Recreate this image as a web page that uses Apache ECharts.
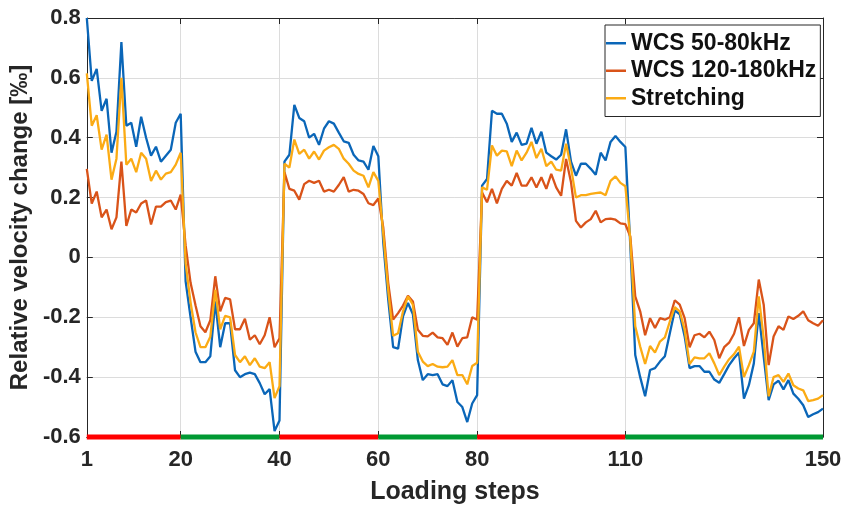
<!DOCTYPE html>
<html>
<head>
<meta charset="utf-8">
<title>Relative velocity change</title>
<script src="https://cdn.jsdelivr.net/npm/echarts@6/dist/echarts.min.js"></script>
<style>
  html, body { margin: 0; padding: 0; background: #fff; }
  #chart { width: 845px; height: 511px; }
</style>
</head>
<body>
<div id="chart"></div>
<script>
// Loading steps shown on the x axis
const tickSteps = [1, 20, 40, 60, 80, 110, 150];
const yTicks = [-0.6, -0.4, -0.2, 0, 0.2, 0.4, 0.6, 0.8];

// Load phases drawn as a coloured strip along the bottom axis
const phaseBounds = [1, 20, 40, 60, 80, 110, 150];
const phaseColors = ['#ff0000', '#009933', '#ff0000', '#009933', '#ff0000', '#009933'];

const seriesNames = ['WCS 50-80kHz', 'WCS 120-180kHz', 'Stretching'];

// Relative velocity change [‰] per loading step (steps 1..150)
const wcsLow = [
  0.80, 0.59, 0.63, 0.49, 0.53, 0.35, 0.42, 0.72, 0.44, 0.45,
  0.37, 0.47, 0.40, 0.34, 0.37, 0.32, 0.34, 0.36, 0.45, 0.48,
  -0.08, -0.20, -0.315, -0.35, -0.35, -0.33, -0.147, -0.30, -0.22, -0.22,
  -0.377, -0.40, -0.39, -0.385, -0.39, -0.42, -0.457, -0.44, -0.58, -0.545,
  0.32, 0.343, 0.51, 0.466, 0.455, 0.40, 0.413, 0.376, 0.43, 0.455,
  0.447, 0.417, 0.388, 0.383, 0.343, 0.324, 0.32, 0.293, 0.372, 0.338,
  0.05, -0.14, -0.30, -0.305, -0.197, -0.152, -0.19, -0.343, -0.41, -0.39,
  -0.393, -0.39, -0.424, -0.43, -0.41, -0.483, -0.50, -0.55, -0.488, -0.46,
  0.24, 0.262, 0.49, 0.48, 0.48, 0.447, 0.386, 0.417, 0.376, 0.38,
  0.433, 0.38, 0.42, 0.35, 0.338, 0.327, 0.343, 0.428, 0.32, 0.273,
  0.313, 0.313, 0.296, 0.276, 0.35, 0.324, 0.386, 0.406, 0.386, 0.369,
  0.04, -0.326, -0.40, -0.464, -0.376, -0.37, -0.348, -0.33, -0.253, -0.177,
  -0.19, -0.264, -0.37, -0.363, -0.363, -0.382, -0.382, -0.408, -0.419, -0.39,
  -0.36, -0.337, -0.318, -0.472, -0.427, -0.354, -0.186, -0.332, -0.477, -0.424,
  -0.412, -0.441, -0.41, -0.455, -0.472, -0.494, -0.533, -0.524, -0.517, -0.505
];
const wcsHigh = [
  0.296, 0.18, 0.22, 0.134, 0.16, 0.094, 0.134, 0.32, 0.105, 0.16,
  0.15, 0.18, 0.19, 0.11, 0.17, 0.17, 0.185, 0.19, 0.16, 0.21,
  0.04, -0.085, -0.16, -0.23, -0.25, -0.21, -0.063, -0.18, -0.135, -0.14,
  -0.24, -0.24, -0.205, -0.275, -0.26, -0.29, -0.26, -0.20, -0.30, -0.27,
  0.285, 0.229, 0.223, 0.193, 0.245, 0.256, 0.249, 0.256, 0.22, 0.226,
  0.22, 0.242, 0.268, 0.22, 0.226, 0.223, 0.212, 0.181, 0.175, 0.197,
  0.10, -0.085, -0.208, -0.186, -0.161, -0.128, -0.147, -0.242, -0.262, -0.264,
  -0.251, -0.267, -0.27, -0.292, -0.251, -0.298, -0.27, -0.267, -0.20, -0.208,
  0.217, 0.184, 0.229, 0.181, 0.229, 0.256, 0.24, 0.282, 0.24, 0.24,
  0.268, 0.234, 0.268, 0.229, 0.279, 0.234, 0.206, 0.329, 0.251, 0.122,
  0.10, 0.117, 0.128, 0.156, 0.117, 0.128, 0.13, 0.126, 0.114, 0.111,
  0.07, -0.13, -0.18, -0.26, -0.203, -0.236, -0.203, -0.208, -0.20, -0.143,
  -0.158, -0.203, -0.30, -0.26, -0.255, -0.267, -0.248, -0.276, -0.337, -0.30,
  -0.285, -0.255, -0.20, -0.296, -0.242, -0.22, -0.074, -0.158, -0.36, -0.264,
  -0.23, -0.242, -0.197, -0.206, -0.195, -0.18, -0.21, -0.22, -0.228, -0.21
];
const stretching = [
  0.615, 0.44, 0.475, 0.36, 0.41, 0.26, 0.33, 0.60, 0.31, 0.33,
  0.285, 0.35, 0.33, 0.255, 0.29, 0.26, 0.28, 0.285, 0.31, 0.35,
  -0.02, -0.15, -0.25, -0.30, -0.30, -0.265, -0.108, -0.24, -0.195, -0.20,
  -0.326, -0.35, -0.33, -0.36, -0.337, -0.365, -0.37, -0.35, -0.47, -0.43,
  0.313, 0.30, 0.394, 0.346, 0.36, 0.33, 0.354, 0.327, 0.357, 0.368,
  0.376, 0.363, 0.33, 0.313, 0.29, 0.279, 0.273, 0.234, 0.285, 0.256,
  0.08, -0.11, -0.262, -0.253, -0.18, -0.13, -0.158, -0.315, -0.348, -0.363,
  -0.356, -0.365, -0.367, -0.365, -0.343, -0.393, -0.393, -0.424, -0.363, -0.352,
  0.234, 0.226, 0.374, 0.34, 0.357, 0.354, 0.305, 0.357, 0.324, 0.35,
  0.386, 0.332, 0.363, 0.305, 0.32, 0.293, 0.29, 0.38, 0.30, 0.20,
  0.208, 0.208, 0.212, 0.215, 0.217, 0.208, 0.256, 0.271, 0.249, 0.238,
  0.06, -0.23, -0.298, -0.356, -0.296, -0.318, -0.281, -0.267, -0.214, -0.166,
  -0.18, -0.242, -0.356, -0.334, -0.337, -0.337, -0.32, -0.354, -0.393, -0.365,
  -0.34, -0.323, -0.298, -0.40, -0.36, -0.315, -0.13, -0.27, -0.464, -0.40,
  -0.393, -0.416, -0.388, -0.427, -0.438, -0.444, -0.48, -0.477, -0.472, -0.46
];

const lineColors = ['#0a66b8', '#d95319', '#fbab14'];
const FONT = "'Liberation Sans', Arial, sans-serif";
const INK = '#262626';

const toPairs = values => values.map((v, i) => [i + 1, v]);

const lineSeries = [wcsLow, wcsHigh, stretching].map((values, k) => ({
  name: seriesNames[k],
  type: 'line',
  data: toPairs(values),
  symbol: 'none',
  lineStyle: { width: 2.3, color: lineColors[k] },
  itemStyle: { color: lineColors[k] },
  z: 3 + k
}));

// one thick segment per load phase, lying on the bottom axis
const phaseSeries = phaseColors.map((c, k) => ({
  type: 'line',
  data: [[phaseBounds[k], yTicks[0]], [phaseBounds[k + 1], yTicks[0]]],
  symbol: 'none',
  silent: true,
  clip: false,
  lineStyle: { width: 5, color: c, cap: 'butt' },
  z: 10
}));

const chart = echarts.init(document.getElementById('chart'), null, { renderer: 'canvas' });

chart.setOption({
  animation: false,
  backgroundColor: '#fff',
  grid: { left: 86, right: 22, top: 18, bottom: 74 },
  legend: {
    data: seriesNames,
    orient: 'vertical',
    left: 605,
    top: 25,
    icon: 'rect',
    padding: [6, 4, 6, 1],
    itemGap: 3,
    itemWidth: 20,
    itemHeight: 2.5,
    backgroundColor: '#fff',
    borderColor: INK,
    borderWidth: 1,
    textStyle: { fontFamily: FONT, fontWeight: 'bold', fontSize: 23, color: '#111', lineHeight: 24.5 }
  },
  xAxis: [{
    type: 'value',
    min: 1,
    max: 150,
    name: 'Loading steps',
    nameLocation: 'middle',
    nameGap: 43,
    nameTextStyle: { fontFamily: FONT, fontWeight: 'bold', fontSize: 25, color: INK },
    axisLine: { show: true, onZero: false, lineStyle: { color: INK, width: 1 } },
    axisTick: { show: true, inside: true, length: 6, customValues: tickSteps, lineStyle: { color: INK } },
    axisLabel: { customValues: tickSteps, margin: 12, fontFamily: FONT, fontWeight: 'bold', fontSize: 22, color: INK },
    splitLine: { show: true, lineStyle: { color: '#dcdcdc', width: 1 } }
  }, {
    type: 'value',
    position: 'top',
    min: 1,
    max: 150,
    axisLine: { show: true, onZero: false, lineStyle: { color: INK, width: 1 } },
    axisTick: { show: true, inside: true, length: 6, customValues: tickSteps, lineStyle: { color: INK } },
    axisLabel: { show: false, customValues: tickSteps },
    splitLine: { show: false }
  }],
  yAxis: [{
    type: 'value',
    min: -0.6,
    max: 0.8,
    interval: 0.2,
    name: 'Relative velocity change [‰]',
    nameLocation: 'middle',
    nameGap: 47,
    nameRotate: 90,
    nameTextStyle: { fontFamily: FONT, fontWeight: 'bold', fontSize: 24, color: INK },
    axisLine: { show: true, onZero: false, lineStyle: { color: INK, width: 1 } },
    axisTick: { show: true, inside: true, length: 6, lineStyle: { color: INK } },
    axisLabel: {
      margin: 6,
      fontFamily: FONT, fontWeight: 'bold', fontSize: 22, color: INK,
      formatter: v => (Math.abs(v) < 1e-9 ? '0' : v.toFixed(1))
    },
    splitLine: { show: true, lineStyle: { color: '#dcdcdc', width: 1 } }
  }, {
    type: 'value',
    position: 'right',
    min: -0.6,
    max: 0.8,
    interval: 0.2,
    axisLine: { show: true, onZero: false, lineStyle: { color: INK, width: 1 } },
    axisTick: { show: true, inside: true, length: 6, lineStyle: { color: INK } },
    axisLabel: { show: false },
    splitLine: { show: false }
  }],
  series: lineSeries.concat(phaseSeries)
});
</script>
</body>
</html>
